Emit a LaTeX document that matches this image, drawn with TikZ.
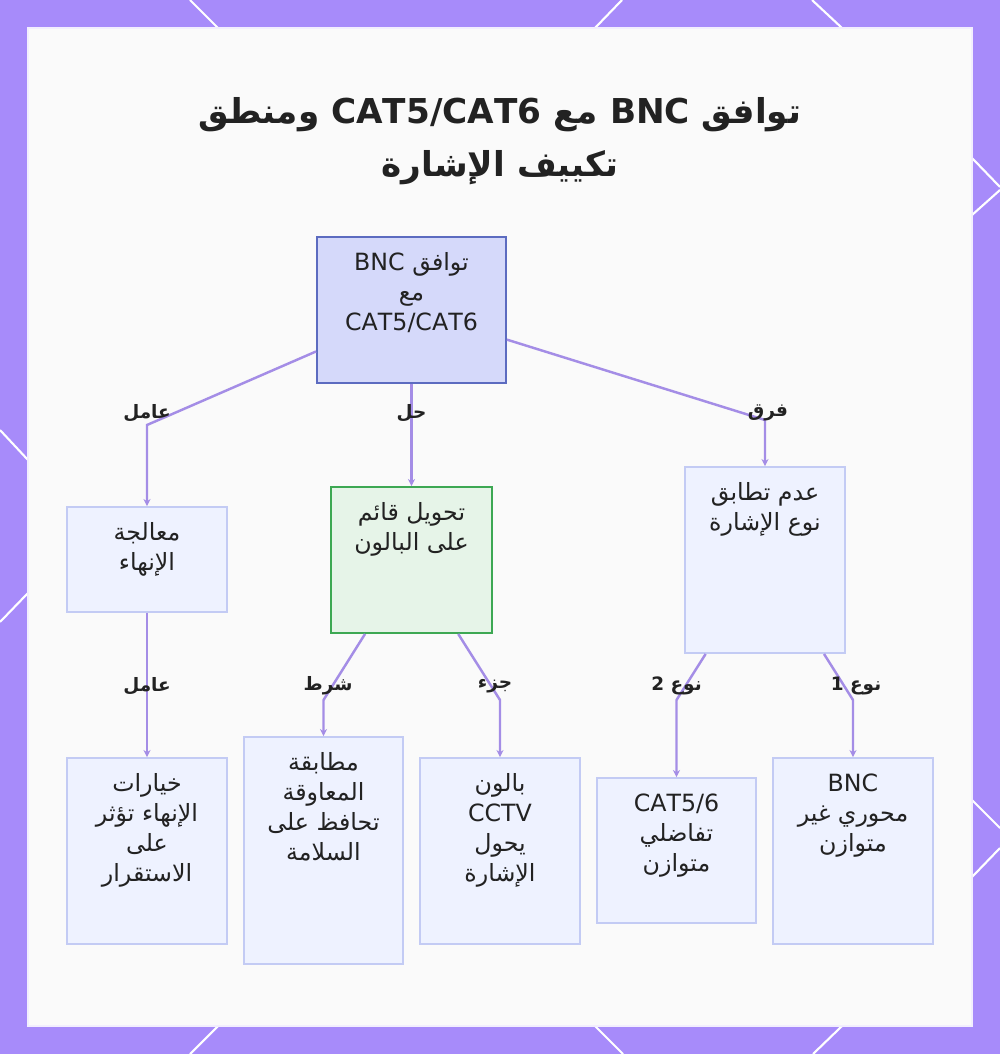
\documentclass[tikz,border=0pt]{standalone}
\usepackage{fontspec}
\usetikzlibrary{positioning,arrows.meta}
\setmainfont{DejaVu Sans}
\newfontfamily\arabicfont[Script=Arabic]{DejaVu Sans}
\TeXXeTstate=1
\newcommand{\rtl}[1]{\beginR #1\endR}
\newcommand{\ltr}[1]{\beginL #1\endL{}}

\definecolor{bgPurple}{HTML}{A78BFA}
\definecolor{linkCol}{HTML}{A48DE6}
\definecolor{rootFill}{HTML}{D5D9FA}
\definecolor{rootLine}{HTML}{5C6BC0}
\definecolor{boxFill}{HTML}{EEF2FF}
\definecolor{boxLine}{HTML}{C3CBF4}
\definecolor{solFill}{HTML}{E6F4E8}
\definecolor{solLine}{HTML}{3DA853}
\definecolor{txtCol}{HTML}{222222}

\tikzset{
  box/.style={draw=boxLine, fill=boxFill, line width=1.1pt, inner sep=0pt},
  rootbox/.style={box, draw=rootLine, fill=rootFill},
  solbox/.style={box, draw=solLine, fill=solFill},
  boxtext/.style={align=center, inner sep=0pt, text=txtCol,
                  font=\arabicfont\fontsize{13.5}{17}\selectfont},
  edgelabel/.style={inner sep=1pt, text=txtCol,
                  font=\arabicfont\bfseries\fontsize{10.5}{12}\selectfont},
  title/.style={align=center, inner sep=0pt, text=txtCol,
                  font=\arabicfont\bfseries\fontsize{19.5}{30}\selectfont},
  link/.style={draw=linkCol, line width=1.4pt, -{Stealth[length=4pt,width=4pt]}},
}

\begin{document}
\begin{tikzpicture}[x=0.02cm,y=-0.02cm]

\useasboundingbox (0,0) rectangle (1000,1054);

% frame
\fill[bgPurple] (0,0) rectangle (1000,1054);
\foreach \xa/\ya/\xb/\yb in {190/0/218/28, 622/0/595/28, 812/0/842/28,
    972/158/1000/187, 972/215/1000/190, 972/800/1000/828, 972/877/1000/848,
    0/430/28/460, 28/593/0/622,
    218/1026/190/1054, 595/1026/623/1054, 842/1026/813/1054}
  \draw[white, line width=1.2pt] (\xa,\ya) -- (\xb,\yb);
\fill[white!98!black] (28,28) rectangle (972,1026);
\draw[white!85!bgPurple, line width=0.6pt] (28,28) rectangle (972,1026);

% title
\node[title] (title) at (500,141)
  {\rtl{توافق \ltr{BNC} مع \ltr{CAT5/CAT6} ومنطق}\\\rtl{تكييف الإشارة}};

% boxes
\node[rootbox, minimum width=3.78cm, minimum height=2.92cm] (root) at (411.5,310) {};
\node[box, minimum width=3.2cm, minimum height=2.1cm] (term) at (147,559.5) {};
\node[solbox, minimum width=3.22cm, minimum height=2.92cm] (balun) at (411.5,560) {};
\node[box, minimum width=3.2cm, minimum height=3.72cm] (mismatch) at (765,560) {};
\node[box, minimum width=3.2cm, minimum height=3.72cm] (opts) at (147,851) {};
\node[box, minimum width=3.18cm, minimum height=4.54cm] (imped) at (323.5,850.5) {};
\node[box, minimum width=3.2cm, minimum height=3.72cm] (cctv) at (500,851) {};
\node[box, minimum width=3.18cm, minimum height=2.9cm] (diff) at (676.5,850.5) {};
\node[box, minimum width=3.2cm, minimum height=3.72cm] (coax) at (853,851) {};

% box texts
\node[boxtext, below=0.33cm of root.north] (rootT)
  {\rtl{توافق \ltr{BNC}}\\\rtl{مع}\\\ltr{CAT5/CAT6}};
\node[boxtext, below=0.33cm of term.north] (termT)
  {\rtl{معالجة}\\\rtl{الإنهاء}};
\node[boxtext, below=0.33cm of balun.north] (balunT)
  {\rtl{تحويل قائم}\\\rtl{على البالون}};
\node[boxtext, below=0.33cm of mismatch.north] (mismatchT)
  {\rtl{عدم تطابق}\\\rtl{نوع الإشارة}};
\node[boxtext, below=0.33cm of opts.north] (optsT)
  {\rtl{خيارات}\\\rtl{الإنهاء تؤثر}\\\rtl{على}\\\rtl{الاستقرار}};
\node[boxtext, below=0.33cm of imped.north] (impedT)
  {\rtl{مطابقة}\\\rtl{المعاوقة}\\\rtl{تحافظ على}\\\rtl{السلامة}};
\node[boxtext, below=0.33cm of cctv.north] (cctvT)
  {\rtl{بالون}\\\ltr{CCTV}\\\rtl{يحول}\\\rtl{الإشارة}};
\node[boxtext, below=0.33cm of diff.north] (diffT)
  {\ltr{CAT5/6}\\\rtl{تفاضلي}\\\rtl{متوازن}};
\node[boxtext, below=0.33cm of coax.north] (coaxT)
  {\ltr{BNC}\\\rtl{محوري غير}\\\rtl{متوازن}};

% bends
\coordinate (bA) at (147,425);
\coordinate (bC) at (765,420);
\coordinate (bE) at (323.5,700);
\coordinate (bF) at (500,700);
\coordinate (bG) at (676.5,700);
\coordinate (bH) at (853,700);

% links
\draw[link] (root) -- (bA) -- (term);
\draw[link] (root) -- (balun);
\draw[link] (root) -- (bC) -- (mismatch);
\draw[link] (term) -- (opts);
\draw[link] (balun) -- (bE) -- (imped);
\draw[link] (balun) -- (bF) -- (cctv);
\draw[link] (mismatch) -- (bG) -- (diff);
\draw[link] (mismatch) -- (bH) -- (coax);

% link labels
\node[edgelabel] (lblA) at (147,413) {\rtl{عامل}};
\node[edgelabel] (lblB) at (411.5,413) {\rtl{حل}};
\node[edgelabel] (lblC) at (768,413) {\rtl{فرق}};
\node[edgelabel] (lblD) at (147,686) {\rtl{عامل}};
\node[edgelabel] (lblE) at (328,686) {\rtl{شرط}};
\node[edgelabel] (lblF) at (495,686) {\rtl{جزء}};
\node[edgelabel] (lblG) at (676.5,686) {\rtl{نوع 2}};
\node[edgelabel] (lblH) at (856,686) {\rtl{نوع 1}};

\end{tikzpicture}
\end{document}
